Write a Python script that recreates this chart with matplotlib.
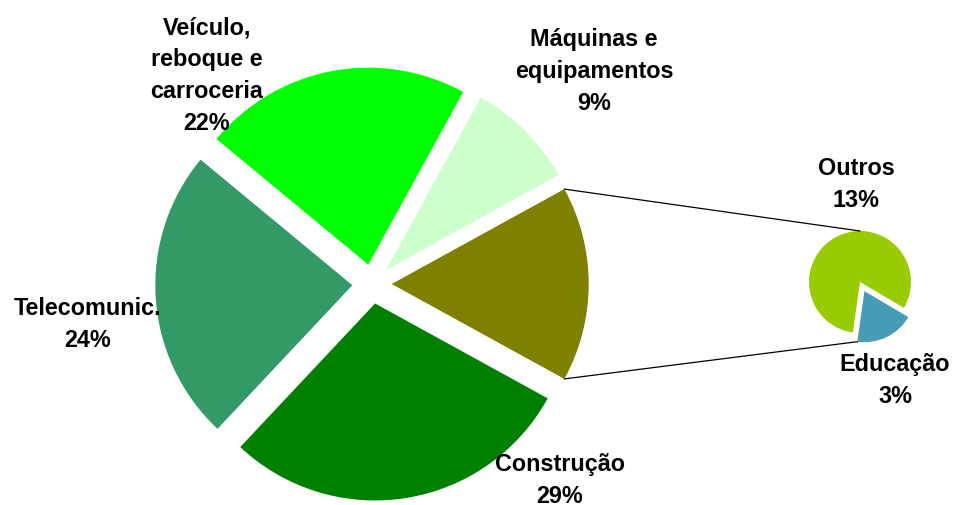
import matplotlib.pyplot as plt
import numpy as np

# grafico de pizza principal (a fatia oliva = soma do grafico secundario)
main_labels = ['Máquinas e\nequipamentos', 'Veículo,\nreboque e\ncarroceria', 'Telecomunic.', 'Construção']
main_values = [9, 22, 24, 29]
main_colors = ['#CCFFCC', '#00FF00', '#339966', '#008000']
other_color = '#808000'

# grafico secundario
sub_labels = ['Outros', 'Educação']
sub_values = [13, 3]
sub_colors = ['#99CC00', '#469CB4']

W, H = 954, 505
fig = plt.figure(figsize=(W / 100, H / 100), dpi=100)
ax = fig.add_axes([0, 0, 1, 1])

# geometria (pixels, y para cima)
c_main = (372, 221)
r_main = 197
exp_main = 0.1
c_sub = (860, 223)
r_sub = 51
exp_sub = [0, 0.2]

other = sum(sub_values)
vals = [other] + main_values
start = -other / 2 * 3.6
# explode no matplotlib e absoluto -> multiplicar pelo raio
ax.pie(vals, colors=[other_color] + main_colors, startangle=start,
       explode=[exp_main * r_main] * len(vals), radius=r_main, center=c_main,
       wedgeprops=dict(linewidth=0))

sub_start = -30.5
ax.pie(sub_values, colors=sub_colors, startangle=sub_start,
       explode=[e * r_sub for e in exp_sub], radius=r_sub, center=c_sub,
       wedgeprops=dict(linewidth=0))

# linhas de ligacao
th = np.deg2rad(other / 2 * 3.6)
ox = c_main[0] + exp_main * r_main
p_top = (ox + r_main * np.cos(th), c_main[1] + r_main * np.sin(th))
p_bot = (ox + r_main * np.cos(th), c_main[1] - r_main * np.sin(th))
q_top = (c_sub[0], c_sub[1] + r_sub)
edu_end = np.deg2rad(sub_start + sub_values[0] / other * 360)
edu_mid = np.deg2rad(sub_start + 360 - sub_values[1] / other * 180)
ex = exp_sub[1] * r_sub
q_bot = (c_sub[0] + ex * np.cos(edu_mid) + r_sub * np.cos(edu_end),
         c_sub[1] + ex * np.sin(edu_mid) + r_sub * np.sin(edu_end))
ax.plot([p_top[0], q_top[0]], [p_top[1], q_top[1]], color='black', lw=0.9)
ax.plot([p_bot[0], q_bot[0]], [p_bot[1], q_bot[1]], color='black', lw=0.9)

# rotulos (posicao = linha de base da ultima linha)
txt = dict(fontsize=16.8, fontweight='bold', family=['Liberation Sans', 'DejaVu Sans'],
           ha='center', va='baseline', multialignment='center', linespacing=1.5)
label_pos = {
    'Máquinas e\nequipamentos': (594, 110),
    'Veículo,\nreboque e\ncarroceria': (207, 130),
    'Telecomunic.': (88, 347),
    'Construção': (560, 503),
    'Outros': (856, 207),
    'Educação': (895, 403),
}
for lab, v in zip(main_labels + sub_labels, main_values + sub_values):
    x, y = label_pos[lab]
    ax.text(x, H - y, f'{lab}\n{v}%', **txt)

ax.set_xlim(0, W)
ax.set_ylim(0, H)
ax.set_aspect('equal')
ax.axis('off')
fig.savefig('out.png', dpi=100)
